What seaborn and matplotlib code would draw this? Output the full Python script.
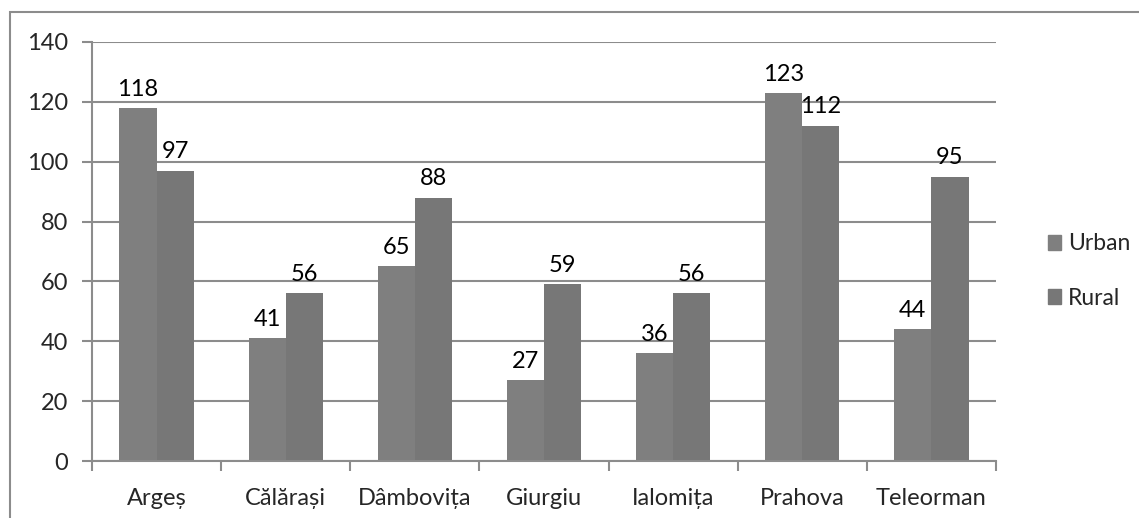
import numpy as np
import pandas as pd
import matplotlib
matplotlib.use("Agg")
import matplotlib.pyplot as plt
import seaborn as sns
from matplotlib.patches import Rectangle

# Data
counties = ["Argeș", "Călărași", "Dâmbovița", "Giurgiu", "Ialomița", "Prahova", "Teleorman"]
urban = [118, 41, 65, 27, 36, 123, 44]
rural = [97, 56, 88, 59, 56, 112, 95]
series = ["Urban", "Rural"]
colors = ["#7f7f7f", "#777777"]

df = pd.DataFrame({
    "county": counties * 2,
    "area": ["Urban"] * len(counties) + ["Rural"] * len(counties),
    "value": urban + rural,
})

sns.set_style("white")
plt.rcParams["font.family"] = ["Lato", "DejaVu Sans"]
fs = 17

fig = plt.figure(figsize=(11.39, 5.18), dpi=100)
ax = fig.add_axes([92 / 1139, 1 - 461 / 518, (996 - 92) / 1139, (461 - 42) / 518])

sns.barplot(data=df, x="county", y="value", hue="area", hue_order=series,
            palette=colors, width=0.575, ax=ax, legend=False,
            saturation=1, edgecolor="none")

for cont in ax.containers:
    ax.bar_label(cont, padding=6, fontsize=fs, color="black")

ax.set_ylim(0, 140)
ax.set_xlim(-0.5, len(counties) - 0.5)
ax.set_yticks(np.arange(0, 141, 20))
ax.set_xlabel("")
ax.set_ylabel("")
ax.yaxis.grid(True, color="#8c8c8c", linewidth=1.5)
ax.set_axisbelow(True)

for s in ["top", "right"]:
    ax.spines[s].set_visible(False)
for s in ["left", "bottom"]:
    ax.spines[s].set_color("#8c8c8c")
    ax.spines[s].set_linewidth(1.5)

ax.tick_params(axis="y", left=True, length=7, width=1.5, color="#8c8c8c", pad=10, labelsize=fs)
ax.set_xticks(np.arange(len(counties)))
ax.set_xticklabels(counties)
ax.tick_params(axis="x", bottom=False, pad=16, labelsize=fs)
ax.set_xticks(np.arange(-0.5, len(counties)), minor=True)
ax.tick_params(axis="x", which="minor", bottom=True, length=7, width=1.5, color="#8c8c8c")

# legend
handles = [Rectangle((0, 0), 1, 1, color=c) for c in colors]
fig.legend(handles, series, loc="center left", bbox_to_anchor=(1027 / 1139, 1 - 271 / 518),
           frameon=False, fontsize=16.5, handlelength=0.6, handleheight=0.6,
           handletextpad=0.3, labelspacing=1.45)

# outer chart border
fig.patches.append(Rectangle((10 / 1139, -0.05), 1.05, 1 - 12 / 518 + 0.05,
                             transform=fig.transFigure, fill=False,
                             edgecolor="#8c8c8c", linewidth=1.5))

fig.savefig("out.png", dpi=100)
